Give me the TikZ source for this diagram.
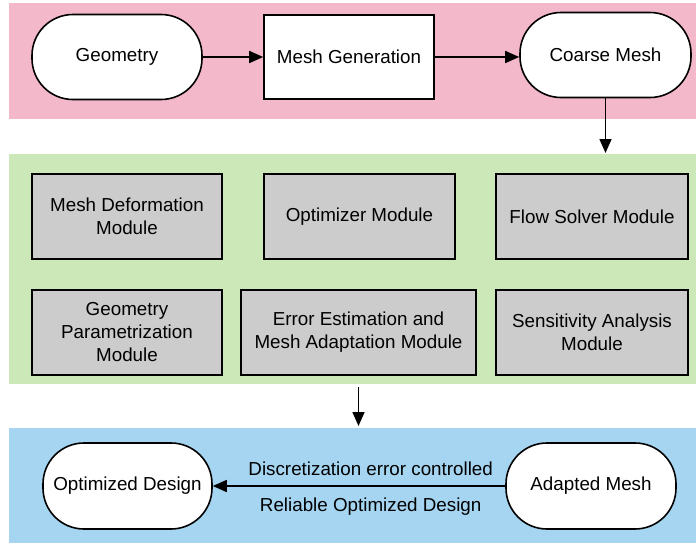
\documentclass[tikz,border=0pt]{standalone}
\usepackage{fontspec}
\setmainfont{Liberation Sans}
\usetikzlibrary{arrows.meta}
\definecolor{bandpink}{HTML}{F4B8CB}
\definecolor{bandgreen}{HTML}{CDE8B8}
\definecolor{bandblue}{HTML}{A5D5F1}
\definecolor{modgrey}{HTML}{CCCCCC}
\begin{document}
\begin{tikzpicture}[x=1pt,y=-1pt,
  every node/.style={font=\fontsize{18.8}{23}\selectfont, align=center, inner sep=0pt},
  terminal/.style={draw, line width=1.6pt, fill=white, rounded corners=41pt},
  procbox/.style={draw, line width=1.6pt, fill=white},
  modbox/.style={draw, line width=1.6pt, fill=modgrey},
  flow/.style={line width=1.6pt, -{Triangle[length=14pt,width=12pt]}}]
\useasboundingbox (0,0) rectangle (696,544);

% stage backgrounds
\fill[bandpink]  (9,3)   rectangle (696,119);
\fill[bandgreen] (9,154) rectangle (696,384);
\fill[bandblue]  (9,428) rectangle (696,543);

% mesh generation stage
\node[terminal, minimum width=170pt, minimum height=85pt] (geo) at (117,57) {Geometry};
\node[procbox, minimum width=170pt, minimum height=84pt] (gen) at (349,57) {Mesh Generation};
\node[terminal, minimum width=171pt, minimum height=85pt] (coarse) at (605.5,55) {Coarse Mesh};
\coordinate (greentop) at (605.5,153);

% optimization modules
\node[modbox, minimum width=190pt, minimum height=85pt] (deform) at (127,216.5) {Mesh Deformation\\Module};
\node[modbox, minimum width=191pt, minimum height=85pt] (optim) at (359.5,216.5) {Optimizer Module};
\node[modbox, minimum width=192pt, minimum height=85pt] (flow) at (592,216.5) {Flow Solver Module};
\node[modbox, minimum width=190pt, minimum height=85pt] (param) at (127,332.5) {Geometry\\Parametrization\\Module};
\node[modbox, minimum width=235pt, minimum height=85pt] (errest) at (358.5,332.5) {Error Estimation and\\Mesh Adaptation Module};
\node[modbox, minimum width=192pt, minimum height=85pt] (sens) at (592,332.5) {Sensitivity Analysis\\Module};
\coordinate (greenbot) at (358.5,387);
\coordinate (bluetop) at (358.5,426);

% result stage
\node[terminal, minimum width=169pt, minimum height=86pt] (optdes) at (127.5,486) {Optimized Design};
\node[terminal, minimum width=170pt, minimum height=86pt] (adapted) at (591,486) {Adapted Mesh};

% connectors
\draw[flow] (geo) -- (gen);
\draw[flow] (gen.east) -- (coarse.west |- gen.east);
\draw[flow] (coarse.south) -- (greentop);
\draw[flow] (greenbot) -- (bluetop);
\draw[flow] (adapted.west) -- (optdes.east)
  node[pos=0.46, above=10pt] {Discretization error controlled}
  node[pos=0.46, below=11pt] {Reliable Optimized Design};
\end{tikzpicture}
\end{document}
